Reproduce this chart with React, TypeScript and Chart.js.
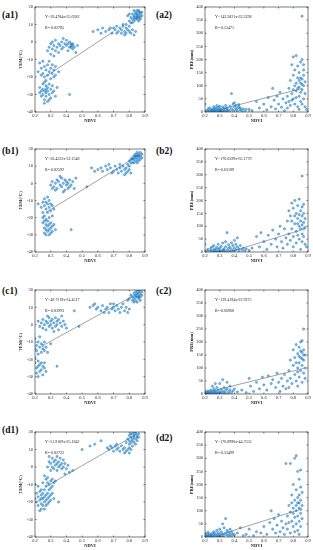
import { useEffect, useRef } from "react";
import { Chart, registerables } from "chart.js";
Chart.register(...registerables);

type Pt = [number, number];

// ---------- tick labels ----------
const NDVI_TICKS = [0.2, 0.3, 0.4, 0.5, 0.6, 0.7, 0.8, 0.9];
const TEM_TICKS = [-40, -30, -20, -10, 0, 10, 20];
const PRE_TICKS = [0, 50, 100, 150, 200, 250, 300, 350, 400];

// ---------- panel labels / regression text ----------
const PANEL_LABELS = ["(a1)", "(a2)", "(b1)", "(b2)", "(c1)", "(c2)", "(d1)", "(d2)"];
const EQUATIONS = [
  "Y=59.4784x-35.6382",
  "Y=142.5821x-33.3198",
  "Y=56.4522x-32.1348",
  "Y=176.6599x-65.1779",
  "Y=49.7219x-24.4517",
  "Y=139.4194x-22.9275",
  "Y=51.9109x-25.1842",
  "Y=176.8996x-44.7552",
];
const R2_TEXT = ["R²=0.82785", "R²=0.53471", "R²=0.82592", "R²=0.63189", "R²=0.83993", "R²=0.66968", "R²=0.83722", "R²=0.53499"];
const SLOPES = [59.4784, 142.5821, 56.4522, 176.6599, 49.7219, 139.4194, 51.9109, 176.8996];
const INTERCEPTS = [-35.6382, -33.3198, -32.1348, -65.1779, -24.4517, -22.9275, -25.1842, -44.7552];
const FIT_X_START = [0.27, 0.3, 0.27, 0.37, 0.26, 0.25, 0.27, 0.3];
const FIT_X_END = [0.7, 0.86, 0.86, 0.86, 0.86, 0.87, 0.84, 0.84];

// ---------- scatter data ----------
const a1Pts: Pt[] = [
  [0.80,12],[0.81,14],[0.82,13],[0.82,16],[0.83,15],[0.83,12],[0.84,14],[0.84,17],[0.84,16],[0.85,15],[0.85,13],[0.85,18],[0.85,16],[0.86,14],[0.86,17],[0.86,15],[0.86,12],[0.87,16],[0.87,14],[0.87,13],[0.88,15],[0.88,17],[0.83,18],[0.81,11],[0.79,15],[0.80,16],[0.82,11],[0.84,13],[0.86,18],[0.87,17],[0.85,14],[0.83,14],
  [0.65,6],[0.67,7],[0.69,5],[0.70,8],[0.71,7],[0.72,9],[0.73,6],[0.74,8],[0.75,7],[0.75,5],[0.76,9],[0.77,6],[0.77,4],[0.78,8],[0.78,5],[0.79,7],[0.80,6],[0.80,9],[0.81,5],[0.82,7],[0.83,4],[0.84,6],[0.78,10],[0.76,10],[0.72,5],[0.68,8],
  [0.57,6],[0.60,7],[0.62,5],[0.63,8],
  [0.29,-3],[0.30,-1],[0.31,-4],[0.31,0],[0.32,-2],[0.33,-5],[0.33,1],[0.34,-3],[0.35,-1],[0.35,-6],[0.36,-2],[0.37,0],[0.37,-4],[0.38,-3],[0.39,-1],[0.40,-2],[0.40,1],[0.41,-5],[0.42,-3],[0.42,0],[0.43,-1],[0.43,-2],[0.44,-4],[0.44,-1],[0.45,-3],[0.46,-6],[0.47,-2],[0.30,-7],[0.32,-8],[0.28,-5],[0.38,2],[0.41,-1],[0.43,-3],[0.44,-2],
  [0.23,-12],[0.24,-15],[0.25,-11],[0.25,-18],[0.26,-14],[0.26,-20],[0.27,-16],[0.28,-13],[0.28,-19],[0.29,-17],[0.30,-15],[0.30,-21],[0.31,-18],[0.32,-16],[0.32,-20],[0.33,-14],[0.24,-19],[0.22,-17],[0.27,-22],[0.29,-11],[0.31,-13],[0.33,-19],[0.35,-17],
  [0.23,-26],[0.24,-28],[0.24,-31],[0.25,-24],[0.25,-27],[0.25,-30],[0.26,-23],[0.26,-28],[0.26,-33],[0.27,-25],[0.27,-29],[0.27,-31],[0.28,-26],[0.28,-28],[0.28,-34],[0.29,-24],[0.29,-30],[0.30,-27],[0.30,-32],[0.31,-25],[0.31,-29],[0.32,-28],[0.33,-31],[0.34,-26],[0.26,-35],[0.29,-33],[0.23,-29],[0.27,-27],[0.42,-30],
];
const a2Pts: Pt[] = [
  [0.21,5],[0.22,2],[0.22,10],[0.23,4],[0.24,8],[0.24,1],[0.25,12],[0.25,5],[0.26,3],[0.26,9],[0.27,6],[0.27,15],[0.28,2],[0.28,11],[0.29,7],[0.29,18],[0.30,4],[0.30,13],[0.31,9],[0.31,2],[0.32,20],[0.32,6],[0.33,14],[0.33,3],[0.34,10],[0.34,25],[0.35,5],[0.35,16],[0.36,8],[0.37,22],[0.37,2],[0.38,12],[0.38,70],[0.39,30],[0.39,6],[0.40,18],[0.40,35],[0.41,9],[0.41,25],[0.42,14],[0.42,3],[0.43,20],[0.43,28],[0.44,8],[0.44,15],[0.45,5],[0.46,12],[0.47,2],[0.48,10],[0.20,30],[0.23,16],[0.26,20],[0.28,24],[0.30,22],[0.25,0],[0.27,1],[0.29,0],[0.31,1],[0.33,0],[0.35,1],
  [0.50,10],[0.52,5],[0.55,40],[0.57,15],[0.60,30],[0.62,8],[0.63,55],[0.65,20],[0.66,90],[0.67,45],[0.68,12],[0.69,60],[0.70,30],[0.71,75],[0.72,18],[0.73,50],[0.74,5],
  [0.75,35],[0.76,60],[0.76,15],[0.77,90],[0.77,40],[0.78,120],[0.78,25],[0.79,70],[0.79,180],[0.80,50],[0.80,210],[0.80,140],[0.81,100],[0.81,30],[0.81,160],[0.82,215],[0.82,80],[0.82,55],[0.83,130],[0.83,20],[0.83,175],[0.84,95],[0.84,60],[0.84,150],[0.84,10],[0.85,110],[0.85,40],[0.85,190],[0.85,75],[0.86,365],[0.86,200],[0.86,125],[0.86,85],[0.86,30],[0.87,160],[0.87,100],[0.87,50],[0.87,140],[0.88,70],[0.88,115],[0.88,20],[0.89,10],[0.85,130],[0.86,105],[0.84,120],[0.83,90],[0.82,110],[0.80,85],[0.79,45],[0.87,180],
];
const b1Pts: Pt[] = [
  [0.80,13],[0.81,14],[0.82,15],[0.82,12],[0.83,16],[0.83,14],[0.84,15],[0.84,17],[0.84,13],[0.85,16],[0.85,14],[0.85,18],[0.86,15],[0.86,17],[0.86,13],[0.87,16],[0.87,14],[0.87,18],[0.88,15],[0.88,17],[0.83,12],[0.85,12],[0.86,16],[0.84,16],[0.82,14],[0.81,12],
  [0.60,8],[0.62,9],[0.63,7],[0.65,10],[0.66,8],[0.68,9],[0.70,7],[0.71,10],[0.72,8],[0.73,6],[0.74,9],[0.75,7],[0.76,10],[0.77,8],[0.77,5],[0.78,9],[0.79,7],[0.79,11],[0.80,8],[0.81,6],[0.80,10],[0.78,6],[0.74,11],[0.69,6],[0.67,11],[0.56,9],[0.58,7],
  [0.30,-1],[0.31,1],[0.32,-2],[0.33,0],[0.34,2],[0.34,-3],[0.35,1],[0.36,-1],[0.37,3],[0.37,-2],[0.38,0],[0.39,2],[0.39,-4],[0.40,1],[0.40,-1],[0.41,0],[0.42,-2],[0.42,2],[0.43,-1],[0.44,1],[0.45,-3],[0.46,3],[0.33,-4],[0.36,4],[0.31,-3],[0.41,-3],[0.38,-5],[0.53,-2],
  [0.24,-14],[0.25,-11],[0.25,-17],[0.26,-9],[0.26,-13],[0.26,-19],[0.27,-11],[0.27,-15],[0.27,-21],[0.28,-12],[0.28,-17],[0.29,-10],[0.29,-14],[0.29,-20],[0.30,-12],[0.30,-16],[0.31,-13],[0.31,-19],[0.32,-15],[0.22,-12],[0.25,-20],[0.28,-8],
  [0.25,-23],[0.26,-26],[0.26,-29],[0.27,-24],[0.27,-27],[0.28,-22],[0.28,-25],[0.28,-28],[0.29,-24],[0.29,-27],[0.29,-30],[0.30,-23],[0.30,-26],[0.31,-25],[0.31,-28],[0.32,-24],[0.27,-30],[0.30,-29],[0.33,-27],[0.26,-22],[0.43,-27],
];
const b2Pts: Pt[] = [
  [0.20,30],[0.21,5],[0.22,10],[0.23,2],[0.24,15],[0.24,6],[0.25,20],[0.25,3],[0.26,8],[0.26,25],[0.27,4],[0.27,12],[0.28,18],[0.28,1],[0.29,10],[0.29,30],[0.30,5],[0.30,15],[0.31,22],[0.31,2],[0.32,8],[0.32,35],[0.33,12],[0.33,4],[0.34,20],[0.34,40],[0.35,6],[0.35,75],[0.36,14],[0.36,28],[0.37,3],[0.37,18],[0.38,10],[0.38,35],[0.39,25],[0.39,5],[0.40,15],[0.40,45],[0.41,8],[0.41,30],[0.42,20],[0.42,55],[0.43,12],[0.43,2],[0.44,25],[0.45,8],[0.46,15],[0.47,4],[0.48,12],[0.50,6],[0.26,0],[0.28,0],[0.30,1],[0.32,0],[0.34,1],[0.36,0],
  [0.52,15],[0.55,60],[0.57,20],[0.58,75],[0.60,40],[0.62,10],[0.63,65],[0.65,30],[0.66,85],[0.68,50],[0.69,20],[0.70,70],[0.71,100],[0.72,40],[0.73,15],[0.74,90],[0.75,55],
  [0.76,30],[0.76,120],[0.77,70],[0.77,160],[0.78,45],[0.78,140],[0.79,90],[0.79,190],[0.80,60],[0.80,170],[0.80,20],[0.81,110],[0.81,200],[0.82,80],[0.82,150],[0.82,35],[0.83,130],[0.83,180],[0.83,65],[0.84,100],[0.84,205],[0.84,50],[0.85,160],[0.85,90],[0.85,120],[0.85,10],[0.86,295],[0.86,175],[0.86,140],[0.86,70],[0.86,40],[0.87,185],[0.87,115],[0.87,150],[0.87,60],[0.88,95],[0.88,130],[0.88,30],[0.89,20],[0.84,145],[0.83,110],[0.81,140],[0.79,120],[0.86,105],[0.87,90],
];
const c1Pts: Pt[] = [
  [0.80,15],[0.81,17],[0.82,16],[0.82,14],[0.83,18],[0.83,15],[0.84,17],[0.84,19],[0.84,14],[0.85,16],[0.85,18],[0.85,20],[0.86,15],[0.86,17],[0.86,19],[0.87,16],[0.87,18],[0.87,14],[0.88,17],[0.88,19],[0.83,13],[0.85,13],[0.86,20],[0.87,20],[0.84,16],[0.86,16],[0.79,14],
  [0.55,10],[0.57,11],[0.59,9],[0.60,10],[0.62,8],[0.63,11],[0.65,9],[0.66,10],[0.67,7],[0.68,12],[0.69,9],[0.70,10],[0.71,8],[0.72,11],[0.73,9],[0.74,7],[0.75,10],[0.76,12],[0.77,8],[0.78,10],[0.79,7],[0.80,9],[0.70,12],[0.64,7],[0.58,12],[0.45,8],[0.48,-1],
  [0.22,2],[0.23,-1],[0.24,1],[0.25,3],[0.25,-2],[0.26,0],[0.27,2],[0.27,-3],[0.28,1],[0.29,4],[0.29,-1],[0.30,2],[0.30,0],[0.31,3],[0.31,-2],[0.32,1],[0.33,4],[0.33,-1],[0.34,2],[0.34,0],[0.35,3],[0.35,-3],[0.36,1],[0.37,-1],[0.37,5],[0.38,2],[0.39,0],[0.40,-2],[0.28,5],[0.32,-4],
  [0.20,-8],[0.21,-12],[0.21,-15],[0.22,-10],[0.22,-17],[0.23,-13],[0.24,-11],[0.24,-16],[0.25,-14],[0.25,-12],[0.26,-10],[0.26,-15],[0.27,-13],[0.28,-16],[0.30,-11],[0.23,-7],[0.20,-14],
  [0.20,-22],[0.21,-25],[0.21,-28],[0.22,-21],[0.22,-24],[0.23,-23],[0.23,-27],[0.24,-22],[0.24,-26],[0.25,-24],[0.25,-29],[0.26,-22],[0.26,-25],[0.27,-27],[0.34,-24],[0.22,-30],[0.20,-19],
];
const c2Pts: Pt[] = [
  [0.20,3],[0.20,10],[0.21,6],[0.21,1],[0.22,12],[0.22,4],[0.23,8],[0.23,2],[0.24,15],[0.24,5],[0.25,10],[0.25,1],[0.26,7],[0.26,20],[0.27,3],[0.27,12],[0.28,6],[0.28,25],[0.29,2],[0.29,15],[0.30,8],[0.30,40],[0.31,4],[0.31,18],[0.32,10],[0.32,55],[0.33,6],[0.33,25],[0.34,14],[0.34,2],[0.35,20],[0.35,45],[0.36,8],[0.37,15],[0.37,30],[0.38,5],[0.39,12],[0.40,20],[0.25,30],[0.27,40],[0.22,0],[0.24,0],[0.26,1],[0.28,0],[0.30,1],[0.33,0],[0.36,1],[0.42,8],[0.45,15],[0.48,5],
  [0.50,60],[0.51,30],[0.53,10],[0.55,45],[0.57,20],[0.59,65],[0.60,35],[0.62,15],[0.63,70],[0.65,40],[0.66,55],[0.68,25],[0.69,80],[0.70,45],[0.71,10],[0.72,60],[0.73,30],[0.74,75],[0.75,20],
  [0.76,50],[0.77,90],[0.77,25],[0.78,130],[0.78,60],[0.79,40],[0.80,110],[0.80,170],[0.81,75],[0.81,140],[0.82,50],[0.82,190],[0.83,100],[0.83,155],[0.83,30],[0.84,120],[0.84,180],[0.84,65],[0.85,140],[0.85,90],[0.85,200],[0.86,110],[0.86,160],[0.86,45],[0.86,205],[0.87,250],[0.87,130],[0.87,80],[0.87,170],[0.88,100],[0.88,150],[0.88,60],[0.85,165],[0.84,145],[0.82,120],[0.86,135],[0.87,150],[0.83,85],
];
const d1Pts: Pt[] = [
  [0.78,14],[0.79,16],[0.80,15],[0.80,13],[0.81,17],[0.81,14],[0.82,16],[0.82,19],[0.82,15],[0.83,17],[0.83,18],[0.83,14],[0.84,16],[0.84,19],[0.84,20],[0.85,17],[0.85,18],[0.85,15],[0.86,19],[0.86,17],[0.83,20],[0.81,19],[0.84,13],[0.82,12],[0.80,18],
  [0.62,15],[0.66,11],[0.67,10],[0.68,12],[0.69,11],[0.70,9],[0.71,12],[0.72,10],[0.73,11],[0.74,9],[0.75,12],[0.76,10],[0.77,8],[0.77,11],[0.78,9],[0.79,10],[0.80,8],[0.81,10],[0.80,11],[0.72,13],[0.55,12],[0.50,10],[0.58,13],
  [0.28,0],[0.29,3],[0.30,-2],[0.30,2],[0.31,5],[0.31,0],[0.32,3],[0.32,-1],[0.33,1],[0.33,4],[0.34,2],[0.34,6],[0.34,-2],[0.35,0],[0.35,3],[0.36,1],[0.36,5],[0.37,-1],[0.37,2],[0.38,4],[0.38,0],[0.39,2],[0.40,-1],[0.41,1],[0.42,-3],[0.29,6],[0.39,-4],[0.44,-2],
  [0.26,-5],[0.27,-7],[0.28,-9],[0.28,-6],[0.29,-10],[0.30,-8],[0.30,-12],[0.31,-7],[0.32,-9],[0.31,-11],[0.29,-13],[0.27,-11],[0.25,-9],[0.33,-8],[0.22,-11],[0.24,-13],[0.20,-10],
  [0.20,-18],[0.21,-20],[0.21,-15],[0.22,-17],[0.22,-22],[0.23,-14],[0.23,-19],[0.24,-16],[0.24,-21],[0.24,-24],[0.25,-15],[0.25,-18],[0.25,-22],[0.26,-17],[0.26,-20],[0.26,-24],[0.27,-16],[0.27,-19],[0.27,-22],[0.28,-15],[0.28,-18],[0.28,-21],[0.29,-17],[0.29,-20],[0.30,-16],[0.30,-19],[0.31,-15],[0.32,-18],[0.35,-20],[0.23,-25],[0.26,-13],[0.24,-18],
];
const d2Pts: Pt[] = [
  [0.20,5],[0.20,15],[0.21,2],[0.21,10],[0.22,6],[0.22,18],[0.23,3],[0.23,12],[0.24,8],[0.24,1],[0.25,14],[0.25,4],[0.26,9],[0.26,20],[0.27,2],[0.27,13],[0.28,7],[0.28,25],[0.29,4],[0.29,16],[0.30,10],[0.30,30],[0.31,3],[0.31,20],[0.32,12],[0.32,50],[0.33,6],[0.33,35],[0.34,15],[0.34,70],[0.35,8],[0.35,25],[0.36,18],[0.36,3],[0.37,30],[0.37,10],[0.38,5],[0.38,20],[0.39,12],[0.40,8],[0.42,15],[0.44,35],[0.46,5],[0.22,0],[0.24,0],[0.26,1],[0.28,0],[0.30,1],[0.32,0],
  [0.48,10],[0.50,30],[0.53,5],[0.55,20],[0.58,15],[0.60,40],[0.62,10],[0.64,55],[0.65,100],[0.66,30],[0.67,70],[0.68,15],[0.69,45],[0.70,85],[0.71,20],[0.72,60],[0.73,35],[0.74,10],[0.75,50],
  [0.75,280],[0.76,80],[0.76,30],[0.77,120],[0.77,55],[0.78,280],[0.78,95],[0.78,15],[0.79,160],[0.79,60],[0.80,200],[0.80,110],[0.80,40],[0.81,300],[0.81,140],[0.81,75],[0.81,20],[0.82,310],[0.82,180],[0.82,100],[0.82,50],[0.83,250],[0.83,130],[0.83,80],[0.83,25],[0.84,220],[0.84,160],[0.84,110],[0.84,60],[0.84,10],[0.85,190],[0.85,140],[0.85,90],[0.85,40],[0.85,255],[0.86,120],[0.86,70],[0.86,170],[0.83,150],[0.82,120],[0.84,130],[0.80,90],[0.79,130],[0.85,105],
];
const ALL_POINTS = [a1Pts, a2Pts, b1Pts, b2Pts, c1Pts, c2Pts, d1Pts, d2Pts];

// ---------- layout (positions only) ----------
const PLOT_TOPS = [7, 149, 290, 432];
const PLOT_BOTTOMS = [112, 252, 394, 537];
const LABEL_TOPS = [[10, 10], [146, 146], [286, 286], [425, 433]];
const SERIF = '"Liberation Serif", "DejaVu Serif", serif';

const framePlugin = {
  id: "frame",
  afterDatasetsDraw(chart: any, _args: any, opts: any) {
    const { ctx, chartArea } = chart;
    const { left, top, right, bottom } = chartArea;
    const xs = chart.scales.x;
    const ys = chart.scales.y;
    ctx.save();
    ctx.strokeStyle = "#262626";
    ctx.lineWidth = 0.6;
    ctx.strokeRect(left, top, right - left, bottom - top);
    ctx.beginPath();
    (opts.xTicks as number[]).forEach((v) => {
      const px = xs.getPixelForValue(v);
      ctx.moveTo(px, bottom); ctx.lineTo(px, bottom - 1.5);
      ctx.moveTo(px, top); ctx.lineTo(px, top + 1.5);
    });
    (opts.yTicks as number[]).forEach((v) => {
      const py = ys.getPixelForValue(v);
      ctx.moveTo(left, py); ctx.lineTo(left + 1.5, py);
      ctx.moveTo(right, py); ctx.lineTo(right - 1.5, py);
    });
    ctx.stroke();
    ctx.fillStyle = "#222";
    ctx.font = `4px ${SERIF}`;
    ctx.textBaseline = "middle";
    ctx.textAlign = "left";
    ctx.fillText(opts.eq, left + 10, top + 10);
    ctx.fillText(opts.r2, left + 10, top + 21);
    ctx.restore();
  },
};

function Panel({ idx }: { idx: number }) {
  const ref = useRef<HTMLCanvasElement>(null);
  const row = Math.floor(idx / 2);
  const isRight = idx % 2 === 1;
  const T = PLOT_TOPS[row];
  const B = PLOT_BOTTOMS[row];
  const canvasLeft = isRight ? 155 : 0;
  const canvasW = isRight ? 158 : 155;
  const canvasTop = T - 7;
  const canvasH = B - T + 21;

  useEffect(() => {
    const pts = ALL_POINTS[idx];
    const yTicks = isRight ? PRE_TICKS : TEM_TICKS;
    const x0 = FIT_X_START[idx];
    const x1 = FIT_X_END[idx];
    const fit = [x0, x1].map((x) => ({ x, y: SLOPES[idx] * x + INTERCEPTS[idx] }));
    const tickFont = { family: SERIF, size: 4.5 };
    const titleFont = { family: SERIF, size: 4.5, weight: "bold" as const };
    const chart = new Chart(ref.current!, {
      type: "scatter",
      data: {
        datasets: [
          {
            type: "scatter",
            data: pts.map(([x, y]) => ({ x, y })),
            pointRadius: 1.1,
            pointBorderWidth: 0.5,
            pointBackgroundColor: "rgba(0,114,189,0.45)",
            pointBorderColor: "#1a78c2",
          },
          {
            type: "line",
            data: fit,
            borderColor: "#7a7a7a",
            borderWidth: 0.7,
            pointRadius: 0,
            fill: false,
          } as any,
        ],
      },
      plugins: [framePlugin],
      options: {
        animation: false,
        responsive: false,
        events: [],
        layout: { padding: { left: isRight ? 34 : 18, right: isRight ? 5 : 10, top: 7, bottom: 2 } },
        plugins: {
          legend: { display: false },
          tooltip: { enabled: false },
          frame: { eq: EQUATIONS[idx], r2: R2_TEXT[idx], xTicks: NDVI_TICKS, yTicks },
        } as any,
        scales: {
          x: {
            type: "linear",
            min: 0.2,
            max: 0.9,
            afterBuildTicks: (s: any) => { s.ticks = NDVI_TICKS.map((v) => ({ value: v })); },
            afterFit: (s: any) => { s.height = 12; },
            ticks: { font: tickFont, color: "#262626", padding: 1, maxRotation: 0, minRotation: 0, autoSkip: false, callback: (v: any) => Number(v).toFixed(1) },
            grid: { display: false, drawTicks: false, tickLength: 0 },
            border: { display: false },
            title: { display: true, text: "NDVI", font: titleFont, color: "#262626", padding: 0 },
          },
          y: {
            type: "linear",
            min: isRight ? 0 : -40,
            max: isRight ? 400 : 20,
            afterBuildTicks: (s: any) => { s.ticks = yTicks.map((v) => ({ value: v })); },
            afterFit: (s: any) => { s.width = isRight ? 16 : 17; },
            ticks: { font: tickFont, color: "#262626", padding: 2, autoSkip: false, callback: (v: any) => String(v) },
            grid: { display: false, drawTicks: false, tickLength: 0 },
            border: { display: false },
            title: { display: true, text: isRight ? "PRE(mm)" : "TEM(°C)", font: titleFont, color: "#262626", padding: 0 },
          },
        },
      } as any,
    });
    return () => chart.destroy();
  }, [idx]);

  return (
    <canvas
      ref={ref}
      width={canvasW}
      height={canvasH}
      style={{ position: "absolute", left: canvasLeft, top: canvasTop, width: canvasW, height: canvasH }}
    />
  );
}

export default function App() {
  return (
    <div style={{ position: "fixed", left: 0, top: 0, width: 313, height: 550, background: "#fff", overflow: "hidden" }}>
      {PANEL_LABELS.map((lab, i) => {
        const row = Math.floor(i / 2);
        const isRight = i % 2 === 1;
        return (
          <div
            key={lab}
            style={{
              position: "absolute",
              left: isRight ? 156 : 2,
              top: LABEL_TOPS[row][isRight ? 1 : 0],
              fontFamily: SERIF,
              fontWeight: "bold",
              fontSize: 9.5,
              lineHeight: "10px",
              color: "#111",
              whiteSpace: "nowrap",
            }}
          >
            {lab}
          </div>
        );
      })}
      {PANEL_LABELS.map((lab, i) => (
        <Panel key={"p" + lab} idx={i} />
      ))}
    </div>
  );
}
